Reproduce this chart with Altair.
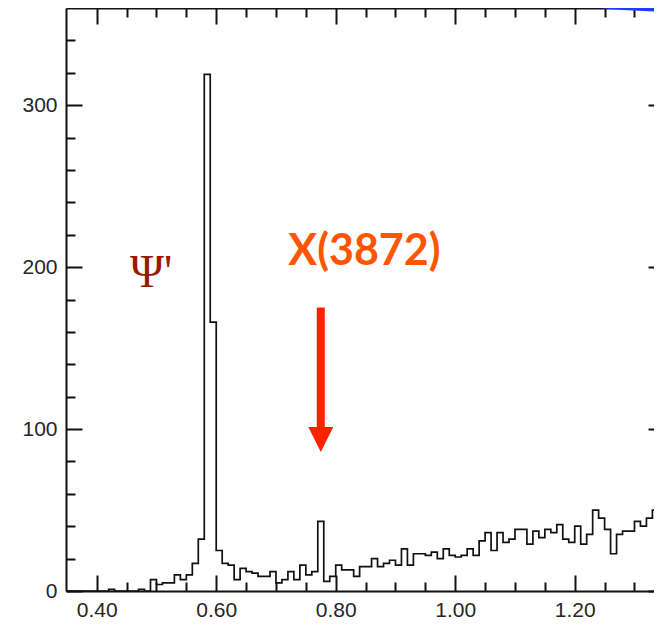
import altair as alt
import pandas as pd

# ---------------- data ----------------
bin_start = 0.35
bin_width = 0.01
counts = [0, 0, 0, 0, 0, 0, 0, 1, 0, 0,
          0, 0, 1, 0, 7, 4, 5, 5, 10, 7,
          10, 17, 32, 319, 166, 25, 17, 16, 7, 14,
          12, 11, 9, 9, 12, 5, 7, 12, 7, 16,
          10, 12, 43, 6, 9, 16, 13, 13, 9, 15,
          15, 20, 15, 17, 19, 16, 26, 16, 23, 23,
          22, 24, 20, 26, 22, 21, 22, 26, 22, 31,
          36, 25, 36, 30, 32, 38, 38, 29, 37, 33,
          38, 36, 41, 32, 30, 40, 29, 35, 50, 45,
          38, 23, 35, 37, 37, 43, 40, 45, 50, 41]

major_x = [0.4, 0.6, 0.8, 1.0, 1.2]
minor_x = [0.45, 0.5, 0.55, 0.65, 0.7, 0.75, 0.85, 0.9, 0.95, 1.05, 1.1, 1.15, 1.25, 1.3]
major_y = [0, 100, 200, 300]
minor_y = [20, 40, 60, 80, 120, 140, 160, 180, 220, 240, 260, 280, 320, 340]

x_domain = [0.3486, 1.3494]
y_domain = [0, 360]

# annotations (data units)
psi_x, psi_y, psi_label = [0.491], [188], ["Ψ'"]
xlab_x, xlab_y, xlab_label = [0.848], [201], ["X(3872)"]
arrow_x, arrow_top, arrow_bottom, arrow_head = [0.775], [175], [100], [93.5]
arc_x, arc_y = [1.359], [790]

# ---------------- frames ----------------
edges = [round(bin_start + i * bin_width, 2) for i in range(len(counts) + 1)]
hist = pd.DataFrame({"x": edges, "y": counts + [counts[-1]]})

xs = alt.Scale(domain=x_domain, nice=False, zero=False)
ys = alt.Scale(domain=y_domain, nice=False, zero=False)

INK = "#111111"
LABEL_FONT_SIZE = 21


def tick_axis(orient, values, length):
    return alt.Axis(orient=orient, values=values, offset=-length, tickSize=length,
                    tickWidth=2, tickColor=INK, labels=False, domain=False,
                    grid=False, title=None)


bottom_lab = alt.Axis(orient="bottom", values=major_x, format=".2f", ticks=False,
                      tickSize=0, domain=True, domainColor=INK, domainWidth=2,
                      labelFont="Liberation Sans", labelFontSize=LABEL_FONT_SIZE,
                      labelColor="#262626", labelPadding=8, labelFlush=False,
                      labelOverlap=False, grid=False, title=None)
left_lab = alt.Axis(orient="left", values=major_y, format="d", ticks=False,
                    tickSize=0, domain=True, domainColor=INK, domainWidth=2,
                    labelFont="Liberation Sans", labelFontSize=LABEL_FONT_SIZE,
                    labelColor="#262626", labelPadding=9, labelFlush=False,
                    labelOverlap=False, grid=False, title=None)
top_dom = alt.Axis(orient="top", values=major_x, ticks=False, tickSize=0,
                   labels=False, domain=True, domainColor=INK, domainWidth=2,
                   grid=False, title=None)

line = alt.Chart(hist).mark_line(interpolate="step-after", color=INK,
                                 strokeWidth=1.7).encode(
    x=alt.X("x:Q", scale=xs, axis=bottom_lab),
    y=alt.Y("y:Q", scale=ys, axis=left_lab),
)

shaft = alt.Chart(pd.DataFrame({"x": arrow_x, "y": arrow_top, "y2": arrow_bottom})).mark_rule(
    color="#ff2200", strokeWidth=8).encode(
    x=alt.X("x:Q", scale=xs, axis=tick_axis("bottom", major_x, 16)),
    y=alt.Y("y:Q", scale=ys, axis=tick_axis("left", major_y, 16)),
    y2="y2:Q",
)

head = alt.Chart(pd.DataFrame({"x": arrow_x, "y": arrow_head})).mark_point(
    shape="M-1,-1L1,-1L0,1Z", size=625, filled=True, color="#ff2200",
    opacity=1, strokeWidth=0).encode(
    x=alt.X("x:Q", scale=xs, axis=tick_axis("bottom", minor_x, 9)),
    y=alt.Y("y:Q", scale=ys, axis=tick_axis("left", minor_y, 9)),
)

psi = alt.Chart(pd.DataFrame({"x": psi_x, "y": psi_y, "t": psi_label})).mark_text(
    font="Liberation Serif", fontSize=46, color="#9a1a00", align="center",
    baseline="alphabetic").encode(
    x=alt.X("x:Q", scale=xs, axis=top_dom),
    y=alt.Y("y:Q", scale=ys, axis=tick_axis("right", major_y, 16)),
    text="t:N",
)

xlab = alt.Chart(pd.DataFrame({"x": xlab_x, "y": xlab_y, "t": xlab_label})).mark_text(
    font="Lato", fontWeight="bold", fontSize=43, color="#ff5500", align="center",
    baseline="alphabetic").encode(
    x=alt.X("x:Q", scale=xs, axis=tick_axis("top", major_x, 16)),
    y=alt.Y("y:Q", scale=ys, axis=tick_axis("right", minor_y, 9)),
    text="t:N",
)

arc = alt.Chart(pd.DataFrame({"x": arc_x, "y": arc_y})).mark_arc(
    radius=700, radius2=694, theta=2.9, theta2=3.4, color="#1f3dff").encode(
    x=alt.X("x:Q", scale=xs, axis=tick_axis("top", minor_x, 9)),
    y=alt.Y("y:Q", scale=ys, axis=None),
)

chart = alt.layer(line, shaft, head, psi, xlab, arc).resolve_axis(
    x="independent", y="independent"
).properties(
    width=598, height=583,
    autosize=alt.AutoSizeParams(type="none"),
    padding={"left": 58, "top": 0, "right": -10, "bottom": 29},
    background="white",
).configure_view(stroke="transparent")

chart.save("out.html", embed_options={"renderer": "svg", "actions": False})
